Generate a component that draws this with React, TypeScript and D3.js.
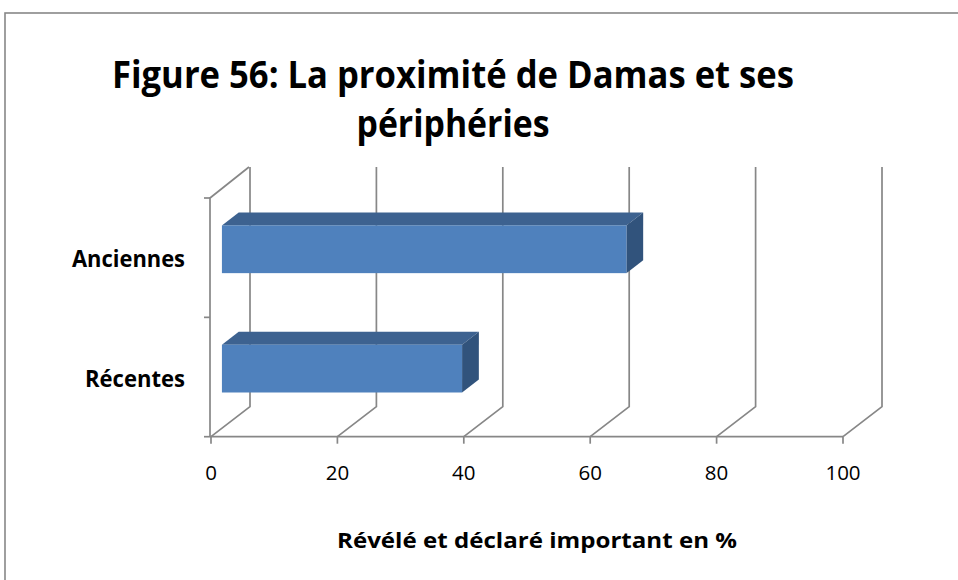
import React from "react";
import * as d3 from "d3";

// Chart data
const categories: string[] = ["Anciennes", "Récentes"];
const values: number[] = [64, 38];
const tickValues: number[] = [0, 20, 40, 60, 80, 100];
const titleLines: string[] = ["Figure 56: La proximité de Damas et ses", "périphéries"];
const axisTitle = "Révélé et déclaré important en %";

const W = 958;
const H = 580;
const FONT = "'Open Sans', 'Noto Sans', sans-serif";

// Front plane of the 3D plot box
const x0 = 211;
const x1 = 843;
const yTop = 198;
const yBottom = 436.7;
const yBackTop = 167;
// Depth vector (front -> back wall)
const DX = 39;
const DY = -30;
// Bars sit between these depth fractions
const F_FRONT = 0.28;
const F_BACK = 0.71;

const GRID = "#878787";
const FACE = "#4F81BD";
const TOP = "#3D6290";
const SIDE = "#31537C";

export default function App() {
  const x = d3.scaleLinear().domain([0, 100]).range([x0, x1]);
  const y = d3
    .scaleBand<string>()
    .domain(categories)
    .range([yTop, yBottom])
    .paddingInner(0.6)
    .paddingOuter(0.3);
  const step = y.step();

  const fdx = F_FRONT * DX;
  const fdy = F_FRONT * DY;
  const ddx = (F_BACK - F_FRONT) * DX;
  const ddy = (F_BACK - F_FRONT) * DY;

  const line = d3.line<[number, number]>();

  return (
    <svg
      width={W}
      height={H}
      style={{ position: "absolute", left: 0, top: 0, background: "#fff" }}
    >
      {/* outer frame */}
      <rect x={5} y={13} width={W + 10} height={H + 10} fill="#fff" stroke={GRID} strokeWidth={1.6} />

      {/* title */}
      {titleLines.map((t, i) => (
        <text
          key={t}
          x={453}
          y={88 + i * 49}
          textAnchor="middle"
          fontFamily={FONT}
          fontWeight="bold"
          fontSize={38}
          textLength={i === 0 ? 682 : 193}
          lengthAdjust="spacingAndGlyphs"
          fill="#000"
        >
          {t}
        </text>
      ))}

      {/* back wall gridlines and floor diagonals */}
      <g stroke={GRID} strokeWidth={1.7} fill="none">
        {tickValues.map((v) => (
          <path
            key={"g" + v}
            d={
              line([
                [x(v), yBottom],
                [x(v) + DX, yBottom + DY],
                [x(v) + DX, yBackTop],
              ]) || ""
            }
          />
        ))}
        {/* left wall */}
        <path
          d={
            line([
              [x0 - 1, yBottom],
              [x0 - 1, yTop],
              [x0 + DX - 1, yBackTop],
            ]) || ""
          }
        />
        {/* base line */}
        <path d={line([[x0 - 1, yBottom], [x1, yBottom]]) || ""} />
        {/* bottom ticks */}
        {tickValues.map((v) => (
          <path key={"t" + v} d={line([[x(v), yBottom], [x(v), yBottom + 7]]) || ""} />
        ))}
        {/* left ticks */}
        {[0, 1, 2].map((i) => (
          <path
            key={"l" + i}
            d={line([[x0 - 7, yTop + i * step], [x0 - 1, yTop + i * step]]) || ""}
          />
        ))}
      </g>

      {/* bars */}
      {categories.map((c, i) => {
        const xa = x(0) + fdx;
        const xb = x(values[i]) + fdx;
        const ya = (y(c) as number) + fdy;
        const yb = ya + y.bandwidth();
        return (
          <g key={c}>
            <path
              d={
                line([
                  [xa, ya],
                  [xa + ddx, ya + ddy],
                  [xb + ddx, ya + ddy],
                  [xb, ya],
                ]) + "Z"
              }
              fill={TOP}
            />
            <path
              d={
                line([
                  [xb, ya],
                  [xb + ddx, ya + ddy],
                  [xb + ddx, yb + ddy],
                  [xb, yb],
                ]) + "Z"
              }
              fill={SIDE}
            />
            <rect x={xa} y={ya} width={xb - xa} height={yb - ya} fill={FACE} />
          </g>
        );
      })}

      {/* category labels */}
      {categories.map((c, i) => (
        <text
          key={"c" + c}
          x={185}
          y={267.3 + i * 119.4}
          textAnchor="end"
          fontFamily={FONT}
          fontWeight="bold"
          fontSize={22.5}
          textLength={i === 0 ? 113 : 100}
          lengthAdjust="spacingAndGlyphs"
          fill="#000"
        >
          {c}
        </text>
      ))}

      {/* value tick labels */}
      {tickValues.map((v) => (
        <text
          key={"v" + v}
          x={x(v)}
          y={480}
          textAnchor="middle"
          fontFamily={FONT}
          fontSize={20.5}
          fill="#000"
        >
          {v}
        </text>
      ))}

      {/* axis title */}
      <text
        x={537}
        y={548}
        textAnchor="middle"
        fontFamily={FONT}
        fontWeight="bold"
        fontSize={21}
        textLength={400}
        lengthAdjust="spacingAndGlyphs"
        fill="#000"
      >
        {axisTitle}
      </text>
    </svg>
  );
}
